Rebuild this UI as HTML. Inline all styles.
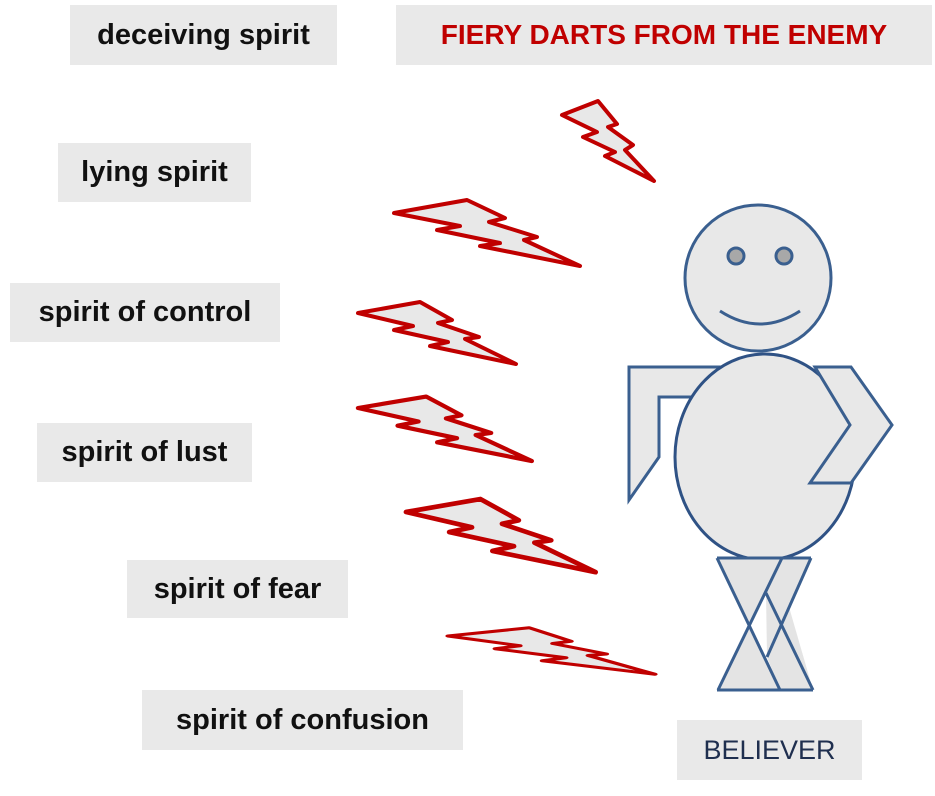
<!DOCTYPE html>
<html><head><meta charset="utf-8"><style>
body{margin:0;width:935px;height:796px;background:#fff;position:relative;overflow:hidden;font-family:"Liberation Sans",sans-serif}
.b{position:absolute;background:#e9e9e9;font-weight:bold;font-size:29px;color:#111;display:flex;align-items:center;justify-content:center;white-space:nowrap}
</style></head><body>
<div class="b" style="left:70px;top:5px;width:267px;height:60px">deceiving spirit</div>
<div class="b" style="left:396px;top:5px;width:536px;height:60px;color:#c00000;font-size:28px">FIERY DARTS FROM THE ENEMY</div>
<div class="b" style="left:58px;top:143px;width:193px;height:59px">lying spirit</div>
<div class="b" style="left:10px;top:283px;width:270px;height:59px">spirit of control</div>
<div class="b" style="left:37px;top:423px;width:215px;height:59px">spirit of lust</div>
<div class="b" style="left:127px;top:560px;width:221px;height:58px">spirit of fear</div>
<div class="b" style="left:142px;top:690px;width:321px;height:60px">spirit of confusion</div>
<div class="b" style="left:677px;top:720px;width:185px;height:60px;font-weight:normal;color:#1f2f4f;font-size:27px">BELIEVER</div>
<svg width="935" height="796" style="position:absolute;left:0;top:0">
<defs><polygon id="bt" points="358,313 420,302 452,320 438,323 479,337 465,339 516,364 430,346 448,342 394,330 413,326"/>
<clipPath id="cl"><rect x="600" y="300" width="300" height="258"/></clipPath></defs>
<g fill="#e8e8e8" stroke="#c00000" stroke-width="4" stroke-linejoin="round">
<polygon points="562,115 598,101 617,124 608,127 633,145 625,150 654,181 605,156 615,152 583,137 597,132"/>
<polygon points="394,213 467,200 505,218 489,222 537,237 524,240 580,266 480,246 500,243 437,230 460,226"/>
<use href="#bt"/>
<use href="#bt" transform="translate(358,408) scale(1.1,1.04) translate(-358,-313)"/>
<use href="#bt" transform="translate(406,512) scale(1.2,1.18) translate(-358,-313)"/>
<use href="#bt" transform="translate(448,636) scale(1.31,0.75) translate(-358,-313)"/>
</g>
<polygon points="717,558 782,558 749,624" fill="#e4e4e4"/>
<polygon points="749,624 780,690 718,690" fill="#e4e4e4"/>
<polygon points="782,558 811,558 767,657 766,593" fill="#e4e4e4"/>
<polygon points="767,657 789,607 813,690 780,690" fill="#e4e4e4"/>
<g fill="#e8e8e8" stroke="#3a5f8f" stroke-width="3" stroke-linejoin="miter">
<polygon points="629,367 720,367 699,397 659,397 659,457 629,500"/>
<line x1="717" y1="558" x2="780" y2="690"/>
<line x1="782" y1="558" x2="718" y2="690"/>
<line x1="811" y1="558" x2="767" y2="657"/>
<line x1="766" y1="593" x2="813" y2="690"/>
<line x1="717" y1="690" x2="813" y2="690"/>
<circle cx="758" cy="278" r="73"/>
<ellipse cx="765" cy="457" rx="90" ry="103" clip-path="url(#cl)" stroke="#2f5285"/>
<line x1="717" y1="558" x2="811" y2="558"/>
<polygon points="815,367 851,367 892,425 851,483 810,483 850,425"/>
<circle cx="736" cy="256" r="8" fill="#a8a8a8"/>
<circle cx="784" cy="256" r="8" fill="#a8a8a8"/>
<path d="M720,311 Q760,337 800,311" fill="none"/>
</g>
</svg>
</body></html>
